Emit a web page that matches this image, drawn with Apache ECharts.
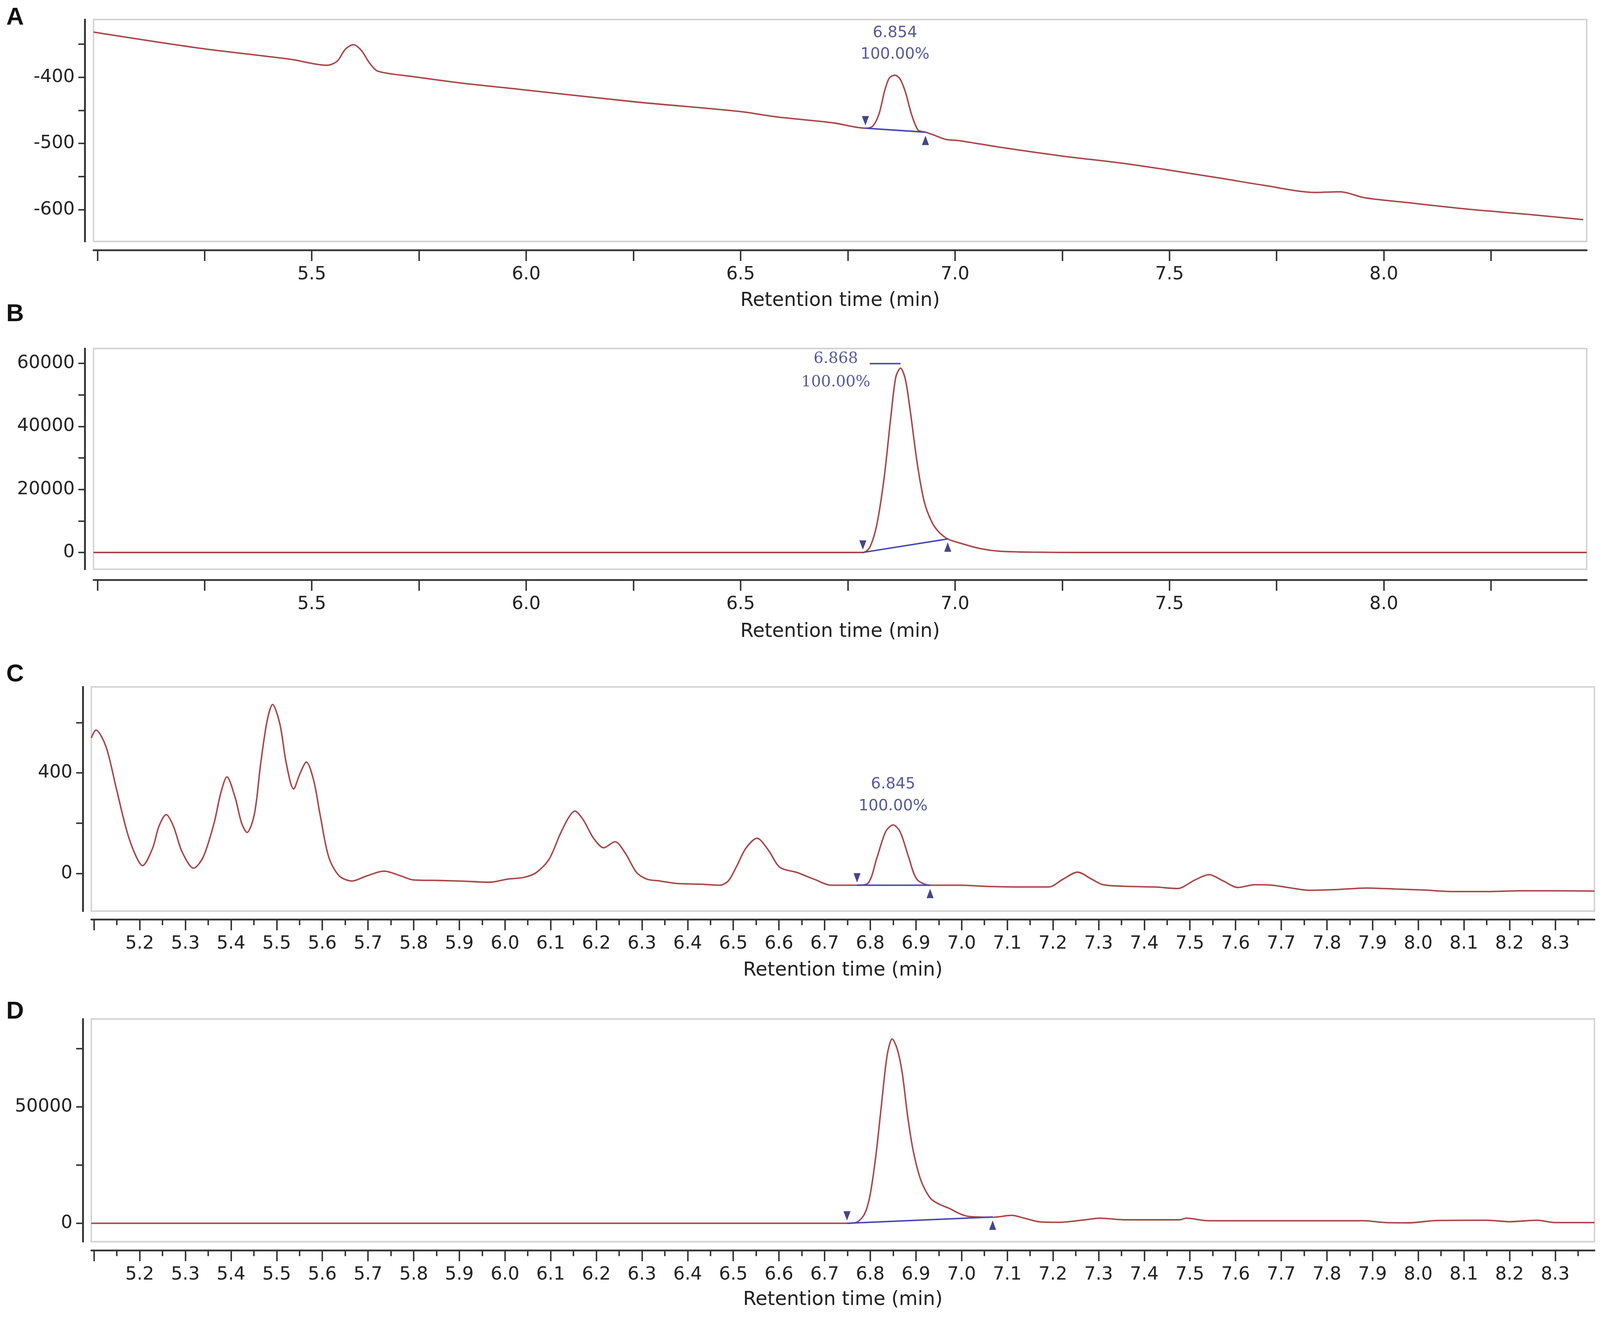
<!DOCTYPE html>
<html>
<head>
<meta charset="utf-8">
<title>Chromatograms A-D</title>
<script src="https://cdn.jsdelivr.net/npm/echarts@6/dist/echarts.min.js"></script>
<style>
html, body { margin: 0; padding: 0; background: #fff; overflow: hidden; }
#main { width: 100vw; height: 100vh; }
</style>
</head>
<body>
<div id="main"></div>
<script>
// ---- panel A ----
var timeA = [4.991, 5.235, 5.45, 5.535, 5.559, 5.578, 5.597, 5.616, 5.635, 5.654,
             5.735, 5.851, 5.98, 6.25, 6.5, 6.584, 6.716, 6.791, 6.808, 6.823,
             6.836, 6.847, 6.86, 6.872, 6.885, 6.898, 6.914, 6.931, 6.953, 6.979,
             7.012, 7.107, 7.249, 7.391, 7.496, 7.624, 7.718, 7.841, 7.898, 7.955,
             8.05, 8.192, 8.334, 8.465];
var signalA = [-332, -356, -373, -382, -376, -358, -351, -360, -379, -391,
               -399, -409, -418, -437, -452, -460, -469, -477, -474, -455,
               -420, -401, -397, -403, -424, -455, -480, -483, -488, -494,
               -496, -506, -519, -530, -540, -553, -563, -574, -573, -582,
               -589, -599, -607, -615];
var intTimeA = [6.791, 6.931];
var intValueA = [-477, -483];
var peakA = [6.86, -397];
var peakTextA = ['6.854', '100.00%'];

// ---- panel B ----
var timeB = [4.991, 6.763, 6.785, 6.801, 6.818, 6.835, 6.851, 6.862, 6.873, 6.884,
             6.895, 6.912, 6.928, 6.945, 6.961, 6.983, 7.016, 7.06, 7.104, 7.181,
             7.3, 8.473];
var signalB = [0, 0, 0, 1600, 9100, 24100, 43900, 55700, 58500, 55000,
               45500, 28100, 16200, 9900, 6700, 4300, 2800, 1200, 400, 100,
               0, 0];
var intTimeB = [6.785, 6.983];
var intValueB = [0, 4300];
var labelPosB = [6.722, 57700];
var leaderTimeB = [6.801, 6.873];
var leaderValueB = 59900;
var peakTextB = ['6.868', '100.00%'];

// ---- panel C ----
var timeC = [5.094, 5.104, 5.126, 5.149, 5.172, 5.191, 5.206, 5.228, 5.242, 5.258,
             5.274, 5.293, 5.318, 5.339, 5.363, 5.377, 5.391, 5.409, 5.423, 5.435,
             5.451, 5.465, 5.479, 5.491, 5.507, 5.521, 5.537, 5.551, 5.565, 5.581,
             5.595, 5.614, 5.637, 5.665, 5.697, 5.735, 5.772, 5.8, 5.855, 5.911,
             5.967, 6.004, 6.041, 6.069, 6.097, 6.12, 6.139, 6.153, 6.171, 6.194,
             6.216, 6.241, 6.264, 6.288, 6.311, 6.339, 6.376, 6.432, 6.47, 6.489,
             6.508, 6.527, 6.552, 6.577, 6.602, 6.639, 6.677, 6.715, 6.771, 6.796,
             6.815, 6.834, 6.85, 6.865, 6.884, 6.902, 6.931, 6.997, 7.059, 7.135,
             7.191, 7.222, 7.254, 7.285, 7.31, 7.372, 7.423, 7.473, 7.511, 7.542,
             7.573, 7.605, 7.642, 7.68, 7.718, 7.761, 7.824, 7.887, 7.95, 8.012,
             8.075, 8.15, 8.225, 8.301, 8.386];
var signalC = [539, 570, 505, 336, 167, 72, 31, 99, 187, 234,
               187, 85, 21, 65, 201, 316, 384, 302, 201, 163,
               234, 438, 607, 672, 594, 438, 336, 397, 443, 370,
               234, 65, -10, -30, -10, 9, -10, -26, -28, -31,
               -35, -23, -16, 4, 58, 153, 221, 248, 214, 140,
               102, 126, 79, 4, -23, -30, -40, -43, -47, -30,
               31, 99, 140, 92, 24, 4, -23, -47, -47, -37,
               65, 167, 193, 167, 65, -23, -47, -47, -52, -54,
               -54, -23, 5, -23, -45, -52, -54, -60, -26, -5,
               -30, -56, -45, -47, -57, -67, -64, -58, -62, -66,
               -72, -72, -69, -69, -70];
var intTimeC = [6.771, 6.931];
var intValueC = [-47, -47];
var peakC = [6.85, 193];
var peakTextC = ['6.845', '100.00%'];

// ---- panel D ----
var timeD = [5.094, 6.0, 6.75, 6.77, 6.787, 6.799, 6.812, 6.824, 6.837, 6.848,
             6.859, 6.87, 6.882, 6.894, 6.911, 6.932, 6.952, 6.973, 6.994, 7.014,
             7.068, 7.11, 7.139, 7.172, 7.213, 7.264, 7.303, 7.358, 7.477, 7.492,
             7.54, 7.88, 7.93, 7.98, 8.04, 8.15, 8.2, 8.26, 8.3, 8.386];
var signalD = [0, 0, 0, 430, 3850, 11560, 28700, 50000, 72300, 79200,
               74900, 64600, 45800, 31200, 18400, 10700, 8100, 6400, 4300, 3000,
               2600, 3400, 2100, 600, 430, 1350, 2200, 1500, 1500, 2200,
               1100, 1100, 300, 200, 1200, 1300, 700, 1300, 300, 300];
var intTimeD = [6.749, 7.068];
var intValueD = [0, 2700];

// ---- axes ticks / labels ----
var abTicks = [5.0, 5.25, 5.5, 5.75, 6.0, 6.25, 6.5, 6.75, 7.0, 7.25, 7.5, 7.75, 8.0, 8.25];
var abLabels = [5.5, 6.0, 6.5, 7.0, 7.5, 8.0];
var cdTicks = [5.1, 5.2, 5.3, 5.4, 5.5, 5.6, 5.7, 5.8, 5.9, 6.0, 6.1, 6.2, 6.3, 6.4, 6.5, 6.6, 6.7,
               6.8, 6.9, 7.0, 7.1, 7.2, 7.3, 7.4, 7.5, 7.6, 7.7, 7.8, 7.9, 8.0, 8.1, 8.2, 8.3];
var cdLabels = [5.2, 5.3, 5.4, 5.5, 5.6, 5.7, 5.8, 5.9, 6.0, 6.1, 6.2, 6.3, 6.4, 6.5, 6.6, 6.7,
                6.8, 6.9, 7.0, 7.1, 7.2, 7.3, 7.4, 7.5, 7.6, 7.7, 7.8, 7.9, 8.0, 8.1, 8.2, 8.3];
var cdHalfTicks = [5.15, 5.25, 5.35, 5.45, 5.55, 5.65, 5.75, 5.85, 5.95, 6.05, 6.15, 6.25, 6.35,
                   6.45, 6.55, 6.65, 6.75, 6.85, 6.95, 7.05, 7.15, 7.25, 7.35, 7.45, 7.55, 7.65,
                   7.75, 7.85, 7.95, 8.05, 8.15, 8.25, 8.35];
var yTicksA = [-350, -400, -450, -500, -550, -600];
var yLabelsA = [-400, -500, -600];
var yTicksB = [0, 10000, 20000, 30000, 40000, 50000, 60000];
var yLabelsB = [0, 20000, 40000, 60000];
var yTicksC = [0, 200, 400, 600];
var yLabelsC = [0, 400];
var yTicksD = [0, 25000, 50000, 75000];
var yLabelsD = [0, 50000];

var TRACE = '#a8484a';
var BASE = '#4646b4';
var MARK = '#15186a';
var NOTE = '#2c2f80';
var AXIS = '#333333';
var FONT = 'DejaVu Sans';

var el = document.getElementById('main');
var chart = echarts.init(el, null, { renderer: 'canvas' });
// layout numbers below are in reference pixels (4328 x 3381), scaled to the real viewport
var SX = chart.getWidth() / 4328;
var SY = chart.getHeight() / 3381;
function px(v) { return v * SX; }
function py(v) { return v * SY; }

function pairs(xs, ys) {
    return xs.map(function (x, i) { return [x, ys[i]]; });
}

function timeAxis(gi, min, max, offset, ticks, labels, nameGap) {
    return {
        type: 'value', gridIndex: gi, position: 'bottom', offset: py(offset),
        min: min, max: max,
        axisLine: { show: true, onZero: false, lineStyle: { color: AXIS, width: px(5) } },
        axisTick: { show: true, customValues: ticks, length: py(28), lineStyle: { color: AXIS, width: px(4) } },
        axisLabel: {
            show: true, customValues: labels, margin: py(40),
            fontSize: px(49), fontFamily: FONT, color: '#222',
            formatter: function (v) { return v.toFixed(1); }
        },
        splitLine: { show: false },
        name: 'Retention time (min)', nameLocation: 'middle', nameGap: py(nameGap),
        nameTextStyle: { fontSize: px(52), fontFamily: FONT, color: '#222' }
    };
}

function halfTickAxis(gi, min, max, offset) {
    return {
        type: 'value', gridIndex: gi, position: 'bottom', offset: py(offset),
        min: min, max: max,
        axisLine: { show: false, onZero: false },
        axisTick: { show: true, customValues: cdHalfTicks, length: py(15), lineStyle: { color: AXIS, width: px(4) } },
        axisLabel: { show: false },
        splitLine: { show: false }
    };
}

function signalAxis(gi, min, max, ticks, labels) {
    return {
        type: 'value', gridIndex: gi, position: 'left', offset: px(23),
        min: min, max: max,
        axisLine: { show: true, onZero: false, lineStyle: { color: AXIS, width: px(5) } },
        axisTick: { show: true, customValues: ticks, length: px(18), lineStyle: { color: AXIS, width: px(4) } },
        axisLabel: {
            show: true, customValues: labels, margin: px(28),
            fontSize: px(49), fontFamily: FONT, color: '#222',
            formatter: function (v) { return String(v); }
        },
        splitLine: { show: false }
    };
}

function traceSeries(ai, data) {
    return {
        type: 'line', xAxisIndex: ai, yAxisIndex: ai, data: data,
        showSymbol: false, smooth: 0.3,
        lineStyle: { color: TRACE, width: px(4) }, z: 2, silent: true
    };
}

function integration(ai, times, values) {
    var pts = pairs(times, values);
    return [
        {
            type: 'line', xAxisIndex: ai, yAxisIndex: ai, data: pts,
            showSymbol: false, lineStyle: { color: BASE, width: px(4) }, z: 3, silent: true
        },
        {
            type: 'scatter', xAxisIndex: ai, yAxisIndex: ai, data: [pts[0]],
            symbol: 'triangle', symbolSize: [px(19), py(24)], symbolRotate: 180, symbolOffset: [0, -py(19)],
            itemStyle: { color: MARK }, z: 4, silent: true
        },
        {
            type: 'scatter', xAxisIndex: ai, yAxisIndex: ai, data: [pts[1]],
            symbol: 'triangle', symbolSize: [px(19), py(24)], symbolOffset: [0, py(21)],
            itemStyle: { color: MARK }, z: 4, silent: true
        }
    ];
}

function noteSeries(ai, point, lines, pos, distance, family, lh) {
    return {
        type: 'scatter', xAxisIndex: ai, yAxisIndex: ai, data: [point],
        symbol: 'circle', symbolSize: 2, itemStyle: { color: 'rgba(0,0,0,0)' },
        silent: true, z: 5,
        label: {
            show: true, position: pos, distance: py(distance),
            formatter: lines.join('\n'), align: 'center',
            fontSize: px(42), lineHeight: py(lh), fontFamily: family, color: NOTE
        }
    };
}

var xMinAB = 4.991, xMaxAB = 8.473;
var xMinCD = 5.094, xMaxCD = 8.386;

var grids = [
    { left: 253, top: 50, width: 4039, height: 568 },
    { left: 253, top: 892, width: 4039, height: 565 },
    { left: 247, top: 1758, width: 4066, height: 574 },
    { left: 247, top: 2608, width: 4066, height: 570 }
].map(function (g) {
    return {
        left: px(g.left), top: py(g.top), width: px(g.width), height: py(g.height),
        show: true, borderColor: '#d3d3d3', borderWidth: px(4),
        containLabel: false, outerBoundsMode: 'none'
    };
});

var option = {
    animation: false,
    backgroundColor: '#ffffff',
    title: [
        { text: 'A', left: 12, top: 10 },
        { text: 'B', left: 12, top: 769 },
        { text: 'C', left: 12, top: 1691 },
        { text: 'D', left: 12, top: 2554 }
    ].map(function (t) {
        return {
            text: t.text, left: px(t.left), top: py(t.top), padding: px(5),
            textStyle: { fontSize: px(66), fontWeight: 'bold', fontFamily: 'Liberation Sans', color: '#111' }
        };
    }),
    grid: grids,
    xAxis: [
        timeAxis(0, xMinAB, xMaxAB, 22, abTicks, abLabels, 106),
        timeAxis(1, xMinAB, xMaxAB, 27, abTicks, abLabels, 109),
        timeAxis(2, xMinCD, xMaxCD, 21, cdTicks, cdLabels, 107),
        timeAxis(3, xMinCD, xMaxCD, 22, cdTicks, cdLabels, 103),
        halfTickAxis(2, xMinCD, xMaxCD, 21),
        halfTickAxis(3, xMinCD, xMaxCD, 22)
    ],
    yAxis: [
        signalAxis(0, -648, -313, yTicksA, yLabelsA),
        signalAxis(1, -5330, 64700, yTicksB, yLabelsB),
        signalAxis(2, -150, 742, yTicksC, yLabelsC),
        signalAxis(3, -7900, 87800, yTicksD, yLabelsD)
    ],
    series: [].concat(
        [traceSeries(0, pairs(timeA, signalA))],
        integration(0, intTimeA, intValueA),
        [noteSeries(0, peakA, peakTextA, 'top', 24, FONT, 55)],

        [traceSeries(1, pairs(timeB, signalB))],
        integration(1, intTimeB, intValueB),
        [noteSeries(1, labelPosB, peakTextB, 'inside', 0, 'DejaVu Serif', 60)],
        [{
            type: 'line', xAxisIndex: 1, yAxisIndex: 1,
            data: pairs(leaderTimeB, [leaderValueB, leaderValueB]),
            showSymbol: false, lineStyle: { color: BASE, width: px(4) }, z: 3, silent: true
        }],

        [traceSeries(2, pairs(timeC, signalC))],
        integration(2, intTimeC, intValueC),
        [noteSeries(2, peakC, peakTextC, 'top', 19, FONT, 56)],

        [traceSeries(3, pairs(timeD, signalD))],
        integration(3, intTimeD, intValueD)
    )
};

chart.setOption(option);
</script>
</body>
</html>
